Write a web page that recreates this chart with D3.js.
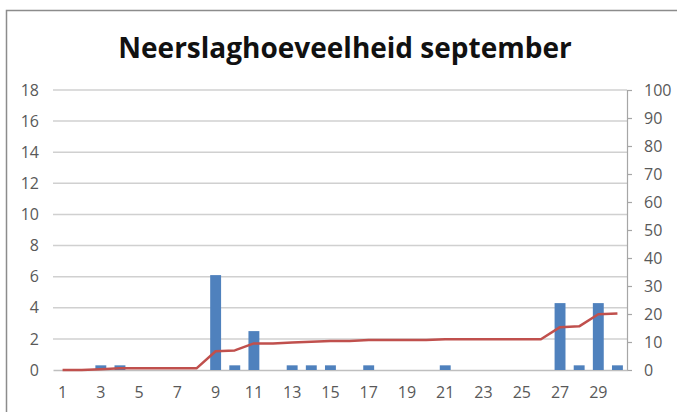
<!DOCTYPE html>
<html>
<head>
<meta charset="utf-8">
<script src="https://cdn.jsdelivr.net/npm/d3@7"></script>
<style>
  body { margin: 0; background: #fff; }
  svg { display: block; font-family: "Open Sans", sans-serif; }
</style>
</head>
<body>
<svg id="chart"></svg>
<script>
var width = 677;
var height = 412;

// dagen 1..30
var days = d3.range(1, 31);
// neerslag per dag (mm), linker as
var rain = [0, 0, 0.3, 0.3, 0, 0, 0, 0, 6.1, 0.3,
            2.5, 0, 0.3, 0.3, 0.3, 0, 0.3, 0, 0, 0,
            0.3, 0, 0, 0, 0, 0, 4.3, 0.3, 4.3, 0.3];
// cumulatief (mm), rechter as
var total = [0, 0, 0.3, 0.6, 0.6, 0.6, 0.6, 0.6, 6.7, 7.0,
             9.5, 9.5, 9.8, 10.1, 10.4, 10.4, 10.7, 10.7, 10.7, 10.7,
             11.0, 11.0, 11.0, 11.0, 11.0, 11.0, 15.3, 15.6, 19.9, 20.2];
var leftTicks = [0, 2, 4, 6, 8, 10, 12, 14, 16, 18];
var rightTicks = [0, 10, 20, 30, 40, 50, 60, 70, 80, 90, 100];
var xLabels = days.filter(function(d) { return d % 2 == 1; });

var margin = {left: 53, right: 50, top: 90, bottom: 42};

var svg = d3.select("#chart")
            .attr("width", width)
            .attr("height", height)

// kader
svg.append("rect")
    .attr("x", 6.5).attr("y", 10.5)
    .attr("width", 700).attr("height", 420)
    .attr("fill", "none")
    .attr("stroke", "#8c8c8c")
    .attr("stroke-width", 1.5)

svg.append("text")
    .attr("x", 345)
    .attr("y", 58)
    .attr("text-anchor", "middle")
    .attr("font-size", 28)
    .attr("font-weight", "bold")
    .attr("fill", "#111")
    .text("Neerslaghoeveelheid september")

var x = d3.scaleBand()
          .domain(days)
          .range([margin.left, width - margin.right])
          .paddingInner(0.43)
          .paddingOuter(0.215)

var xc = d3.scaleBand().domain(days).range([margin.left, width - margin.right]);

var y = d3.scaleLinear().domain([0, 18]).range([height - margin.bottom, margin.top]);
var y2 = d3.scaleLinear().domain([0, 100]).range([height - margin.bottom, margin.top]);

// rasterlijnen
svg.append("g")
    .selectAll("line")
    .data(leftTicks.slice(1))
    .enter().append("line")
    .attr("x1", margin.left)
    .attr("x2", width - margin.right)
    .attr("y1", function(d) { return y(d); })
    .attr("y2", function(d) { return y(d); })
    .attr("stroke", "#d0d0d0")
    .attr("stroke-width", 1.5)

// linker as
var gl = svg.append("g")
    .attr("transform", "translate(" + (margin.left - 14) + ",0)")
    .call(d3.axisLeft(y).tickValues(leftTicks).tickSize(0).tickPadding(0))
gl.select(".domain").remove();

// rechter as
var gr = svg.append("g")
    .attr("transform", "translate(" + (width - margin.right) + ",0)")
    .call(d3.axisRight(y2).tickValues(rightTicks).tickSizeOuter(0).tickSize(5).tickPadding(12))
gr.select(".domain").attr("stroke", "#a6a6a6").attr("stroke-width", 1.2);
gr.selectAll(".tick line").attr("stroke", "#a6a6a6").attr("stroke-width", 1.2);

// onderste as
var gb = svg.append("g")
    .attr("transform", "translate(0," + y(0) + ")")
    .call(d3.axisBottom(xc).tickValues(xLabels).tickSize(0).tickPadding(17))
gb.select(".domain").attr("stroke", "#bfbfbf").attr("stroke-width", 1.5);

svg.selectAll(".tick text")
    .attr("font-family", "Open Sans, sans-serif")
    .attr("font-size", 16)
    .attr("fill", "#595959")

// staven
svg.append("g")
    .selectAll("rect")
    .data(rain)
    .enter().append("rect")
    .attr("x", function(d, i) { return x(days[i]); })
    .attr("width", x.bandwidth())
    .attr("y", function(d) { return y(d); })
    .attr("height", function(d) { return y(0) - y(d); })
    .attr("fill", "#4f81bd")

// cumulatieve lijn
var line = d3.line()
    .x(function(d, i) { return xc(days[i]) + xc.bandwidth() / 2; })
    .y(function(d) { return y2(d); })

svg.append("path")
    .attr("d", line(total))
    .attr("fill", "none")
    .attr("stroke", "#c0504d")
    .attr("stroke-width", 2.5)
    .attr("stroke-linejoin", "round")
</script>
</body>
</html>
